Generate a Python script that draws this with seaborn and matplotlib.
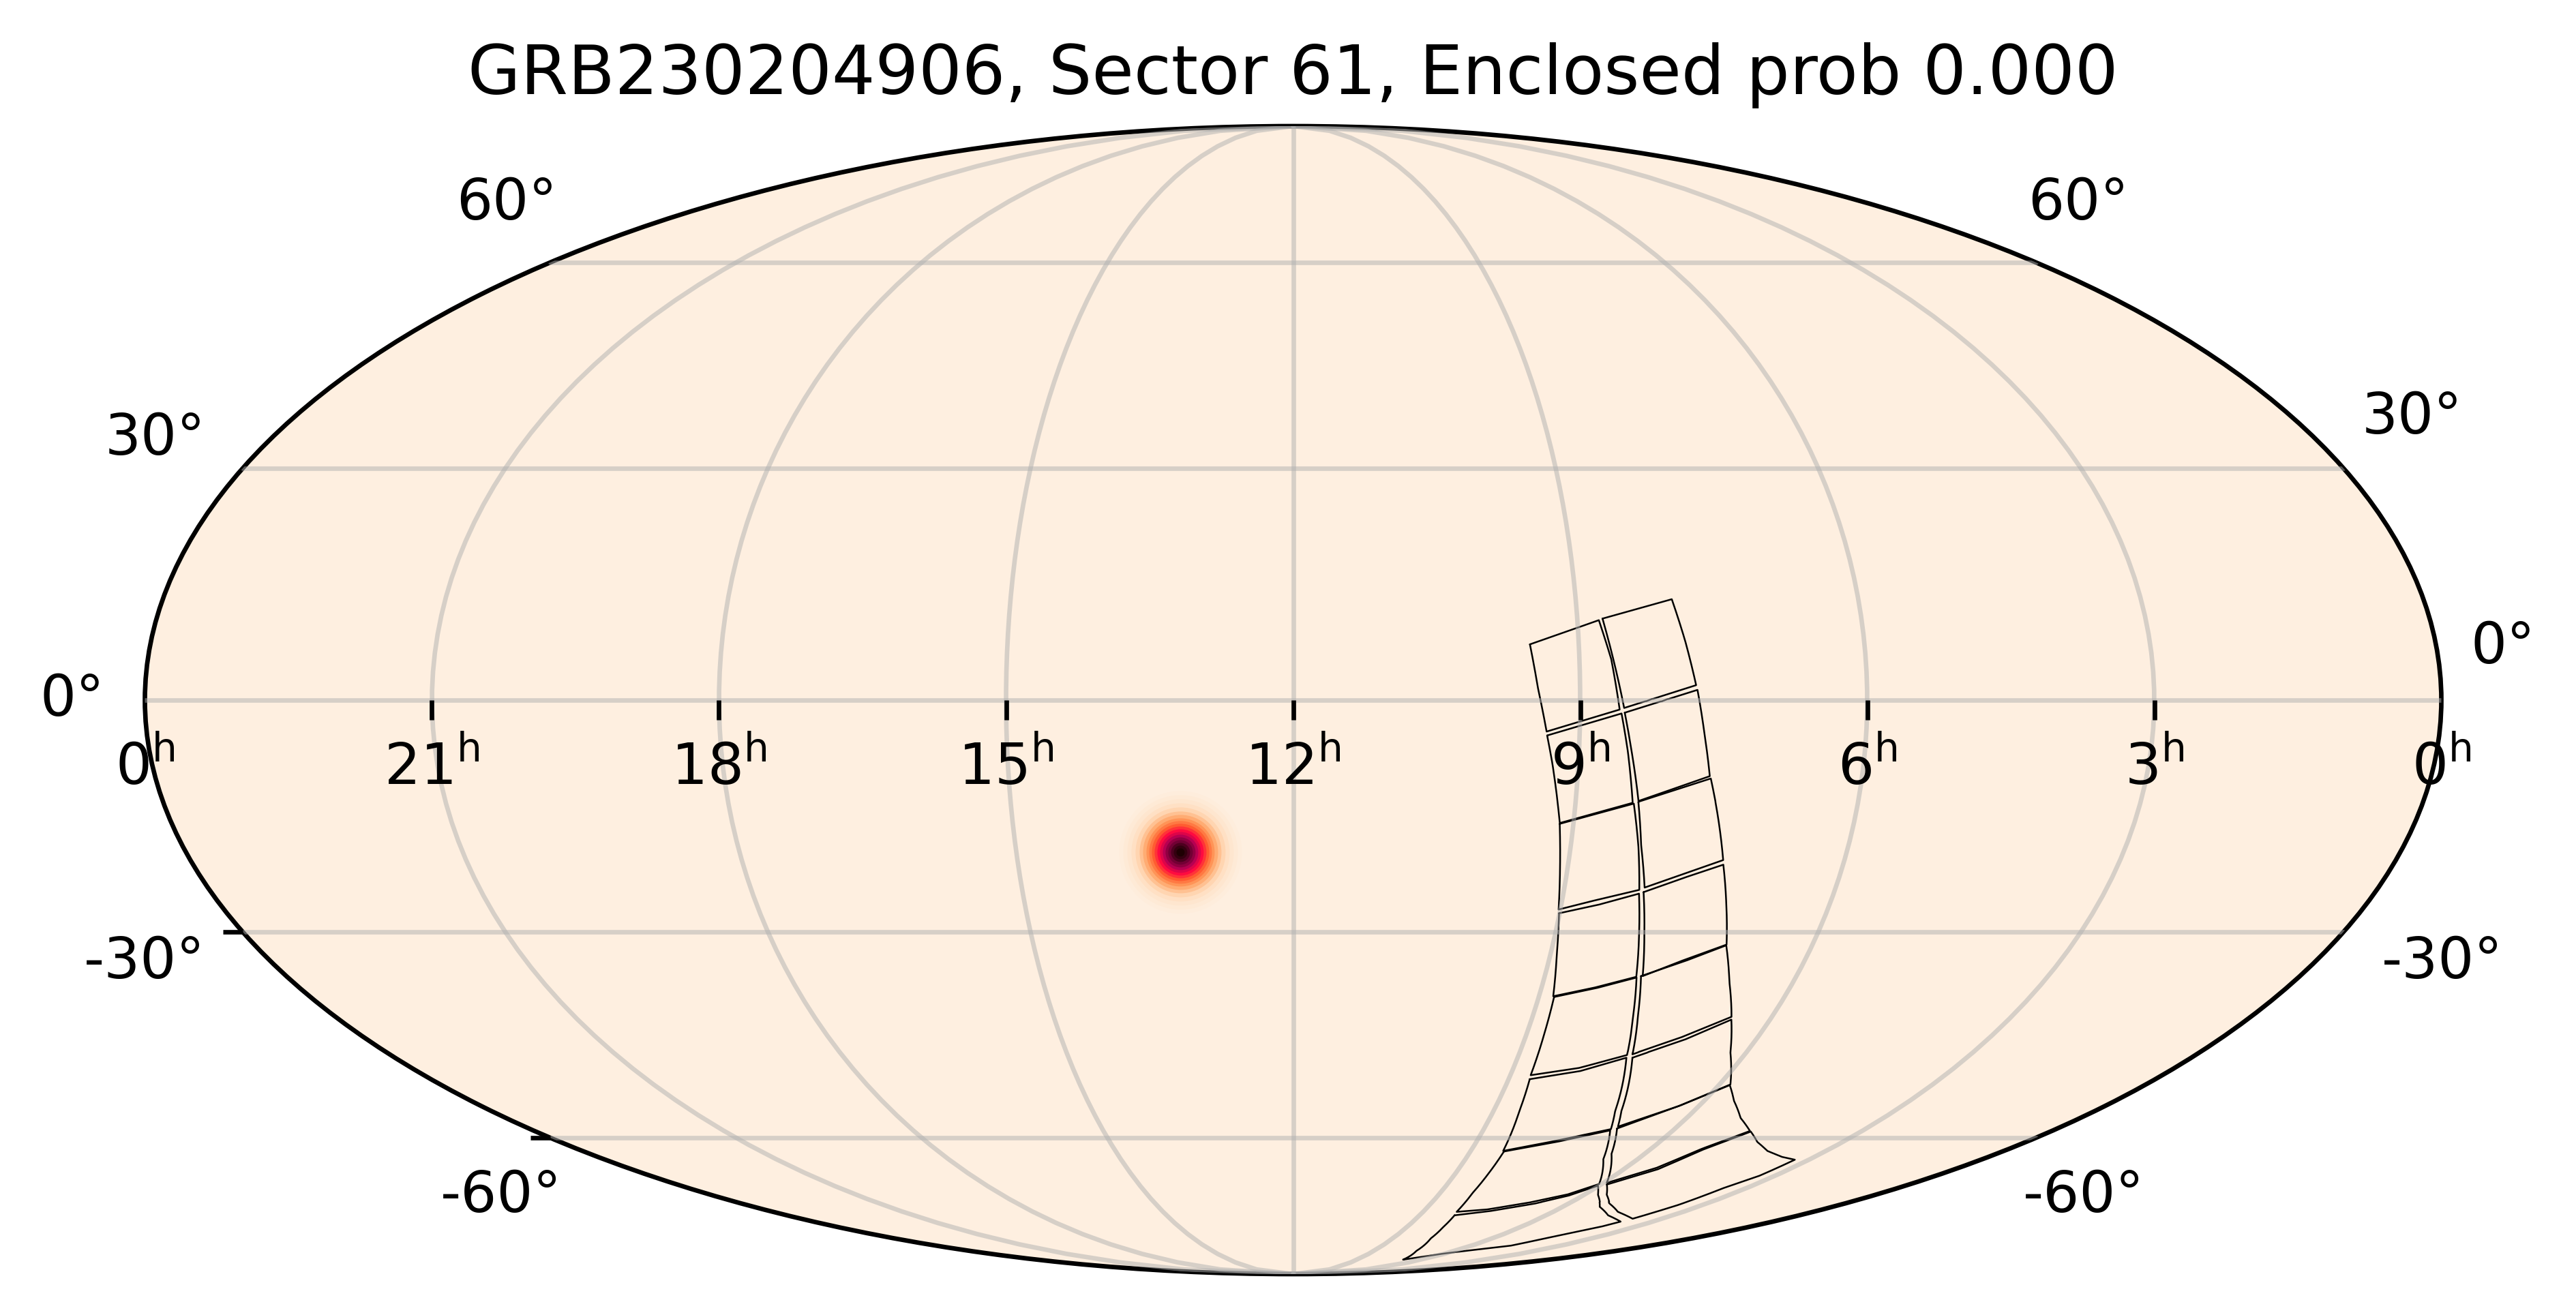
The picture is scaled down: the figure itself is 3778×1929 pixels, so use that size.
import numpy as np
import pandas as pd
import seaborn as sns
import matplotlib.pyplot as plt
from matplotlib.colors import LinearSegmentedColormap
from matplotlib.ticker import NullFormatter

# Detector tile outlines (RA, Dec in degrees), left/right column, rows top to bottom
ra_L1 = [142.7, 131.6, 130.0, 128.8, 140.2, 141.6]
dec_L1 = [7.1, 10.2, 5.2, -1.2, -4.0, 1.5]
ra_R1 = [131.0, 119.7, 118.2, 116.8, 128.1, 129.6]
dec_R1 = [10.4, 12.9, 7.5, 1.9, -1.0, 4.9]
ra_L2 = [140.1, 128.5, 127.3, 125.9, 137.2, 139.1]
dec_L2 = [-4.5, -1.7, -6.6, -13.1, -15.7, -8.1]
ra_R2 = [128.0, 116.6, 115.4, 114.1, 125.0, 126.7]
dec_R2 = [-1.6, 1.3, -4.3, -9.7, -12.9, -6.6]
ra_L3 = [137.2, 125.7, 124.0, 122.5, 129.1, 135.3, 136.3]
dec_L3 = [-15.8, -13.2, -18.8, -24.4, -25.7, -27.0, -21.2]
ra_R3 = [125.0, 113.9, 111.9, 109.8, 121.7, 123.6]
dec_R3 = [-13.0, -10.0, -15.1, -20.5, -24.1, -18.6]
ra_L4 = [135.1, 128.9, 122.4, 120.6, 118.6, 124.9, 132.4, 133.9]
dec_L4 = [-27.5, -26.4, -24.9, -30.3, -36.1, -37.5, -38.8, -33.0]
ra_R4 = [121.7, 115.5, 109.6, 107.3, 104.9, 111.3, 117.5, 119.7]
dec_R4 = [-24.7, -22.8, -21.1, -26.4, -31.7, -33.8, -36.0, -30.3]
ra_L5 = [132.2, 125.2, 118.5, 116.2, 113.4, 121.5, 130.8, 131.6]
dec_L5 = [-38.9, -37.7, -36.2, -41.5, -47.2, -49.1, -50.2, -44.2]
ra_R5 = [117.8, 111.2, 104.9, 101.5, 97.6, 104.4, 112.4, 115.3]
dec_R5 = [-36.0, -34.0, -31.8, -36.8, -41.7, -44.5, -47.1, -41.5]
ra_L6 = [130.6, 121.1, 113.2, 107.7, 105.0, 115.6, 126.8, 129.2]
dec_L6 = [-50.8, -49.6, -47.6, -55.7, -58.6, -60.5, -62.2, -55.7]
ra_R6 = [112.0, 103.9, 97.3, 93.3, 87.7, 94.4, 103.9, 106.3]
dec_R6 = [-47.6, -45.0, -42.1, -46.7, -51.6, -54.9, -58.2, -55.7]
ra_L7 = [126.5, 115.3, 104.9, 99.0, 90.8, 95.2, 102.2, 113.7, 123.4, 125.1, 125.8]
dec_L7 = [-62.3, -60.7, -58.8, -63.6, -68.0, -69.9, -71.3, -72.8, -73.3, -69.7, -66.3]
ra_R7 = [103.7, 94.4, 87.7, 83.5, 77.7, 71.6, 77.2, 81.7, 89.1, 98.5]
dec_R7 = [-58.5, -54.9, -51.7, -54.1, -56.8, -58.9, -61.8, -65.1, -67.8, -62.7]
ra_L8 = [122.6, 112.6, 101.2, 94.5, 90.4, 85.8, 77.7, 68.0, 57.1, 58.6, 64.8, 70.2,
         90.9, 102.7, 111.4, 117.8, 120.6]
dec_L8 = [-74.0, -73.2, -71.7, -70.2, -68.3, -70.0, -72.3, -74.0, -75.3, -76.3, -78.4, -80.7,
          -82.7, -84.4, -82.0, -79.0, -76.5]
ra_R8 = [88.3, 80.8, 76.7, 71.2, 66.0, 59.9, 53.6, 48.7, 49.4, 51.8, 53.1, 55.8, 67.6, 77.1, 83.1]
dec_R8 = [-68.1, -65.4, -62.0, -59.0, -60.7, -62.2, -63.2, -63.7, -66.5, -68.6, -71.9, -74.7,
          -73.3, -71.6, -70.0]

tile_ra = [ra_L1, ra_R1, ra_L2, ra_R2, ra_L3, ra_R3, ra_L4, ra_R4,
           ra_L5, ra_R5, ra_L6, ra_R6, ra_L7, ra_R7, ra_L8, ra_R8]
tile_dec = [dec_L1, dec_R1, dec_L2, dec_R2, dec_L3, dec_R3, dec_L4, dec_R4,
            dec_L5, dec_R5, dec_L6, dec_R6, dec_L7, dec_R7, dec_L8, dec_R8]

# Localisation blob: probability bands around the peak, outermost first
blob_ra = 198.3
blob_dec = -19.5
blob_radius = [9.0, 8.4, 7.8, 7.2, 6.6, 6.0, 5.5, 5.0, 4.6, 4.2,
               3.8, 3.4, 3.0, 2.6, 2.2, 1.8, 1.4, 1.0, 0.6]
blob_prob = [.015, .03, .05, .08, .12, .17, .22, .28, .34, .41,
             .48, .55, .63, .72, .80, .86, .92, .96, .99]

ra_hours = [21, 18, 15, 12, 9, 6, 3]
edge_hours = [24, 0]
edge_labels = ['0', '0']
neg_dec_ticks = [-30, -60]

# Declination labels sit around the ellipse: text, x px, baseline y px
dec_labels = ['60°', '30°', '0°', '-30°', '-60°',
              '60°', '30°', '0°', '-30°', '-60°']
dec_label_x = [743, 228, 106, 212, 735, 3048, 3538, 3671, 3582, 3056]
dec_label_y = [322, 667, 1050, 1435, 1778, 322, 636, 973, 1435, 1778]

W, H = 3779, 1929
DPI = 600
BG = '#feefe0'
DEG_PER_PX = 0.1

sns.set_theme(style='ticks', font='DejaVu Sans', rc={
    'font.size': 10,
    'axes.titlesize': 12,
    'axes.edgecolor': 'black',
    'axes.linewidth': 0.8,
    'text.color': 'black',
    'mathtext.default': 'regular',
})

cylon = LinearSegmentedColormap.from_list('cylon', [
    (0.0, BG), (0.1, '#ffdcbc'), (0.25, '#ffa060'), (0.4, '#ff6030'),
    (0.55, '#ff0a40'), (0.72, '#b80052'), (0.88, '#6a0030'), (1.0, '#1a0000')])


def to_lon(ra):
    # RA runs right to left with 12h at the centre
    return np.radians(180 - np.asarray(ra, dtype=float))


fig = plt.figure(figsize=(W / DPI, H / DPI))
ax = fig.add_axes([212 / W, 1 - 1869 / H, 3369 / W, 1684 / H], projection='mollweide')
ax.set_facecolor(BG)

# Blob, largest disc first so the peak ends up on top
blob = pd.DataFrame({
    'lon': to_lon(blob_ra),
    'lat': np.radians(blob_dec),
    'radius': blob_radius,
    'prob': blob_prob,
})
disc_sizes = {r: (2 * r / DEG_PER_PX * 72 / DPI) ** 2 for r in blob_radius}
sns.scatterplot(data=blob, x='lon', y='lat', size='radius', sizes=disc_sizes,
                hue='prob', palette=cylon, hue_norm=(0, 1), linewidth=0,
                legend=False, ax=ax, zorder=1)

# Tile outlines
frames = []
for i, (ra, dec) in enumerate(zip(tile_ra, tile_dec)):
    frames.append(pd.DataFrame({
        'lon': to_lon(ra + ra[:1]),
        'lat': np.radians(dec + dec[:1]),
        'tile': i,
    }))
outlines = pd.concat(frames, ignore_index=True)
sns.lineplot(data=outlines, x='lon', y='lat', units='tile', estimator=None, sort=False,
             color='black', linewidth=0.3, legend=False, ax=ax, zorder=2)
ax.set_xlabel('')
ax.set_ylabel('')

# Graticule
ax.set_longitude_grid(45)
ax.set_latitude_grid(30)
ax.set_longitude_grid_ends(90)
ax.xaxis.set_major_formatter(NullFormatter())
ax.yaxis.set_major_formatter(NullFormatter())
ax.set_axisbelow(False)
ax.grid(True, color='#b0b0b0', alpha=0.5, linewidth=0.8)

# Hour ticks on the equator, labels under them
for h in ra_hours:
    ax.plot(to_lon(h * 15), 0, marker=3, ms=3.5, mew=0.8, color='black', clip_on=False, zorder=3)
for h, lab in zip(ra_hours + edge_hours, [str(v) for v in ra_hours] + edge_labels):
    ax.annotate(f'${lab}^{{h}}$', xy=(to_lon(h * 15), 0), xytext=(0, -14.9),
                textcoords='offset points', ha='center', va='baseline', annotation_clip=False)

# Short ticks on the lower left edge
for d in neg_dec_ticks:
    ax.plot(-np.pi, np.radians(d), marker=0, ms=3.5, mew=0.8, color='black', clip_on=False, zorder=3)

for lab, x, y in zip(dec_labels, dec_label_x, dec_label_y):
    fig.text(x / W, 1 - y / H, lab, ha='center', va='baseline')

ax.set_title('GRB230204906, Sector 61, Enclosed prob 0.000', pad=5.6)

fig.savefig('out.png', dpi=DPI, facecolor='white')
